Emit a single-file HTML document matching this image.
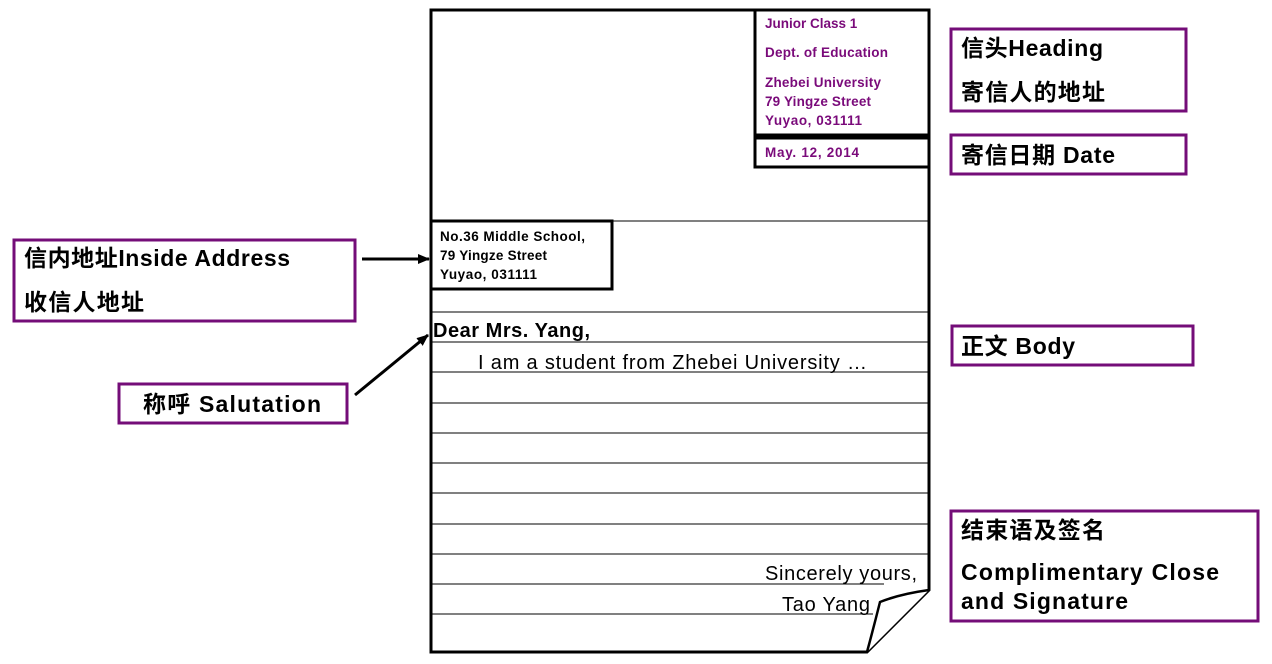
<!DOCTYPE html>
<html><head><meta charset="utf-8"><style>
body{margin:0;background:#fff;}
svg{display:block;}
.lb{font-family:"Liberation Sans","Noto Sans CJK SC",sans-serif;font-weight:bold;font-size:23px;fill:#000;}
.pu{font-family:"Liberation Sans",sans-serif;font-weight:bold;font-size:13.5px;fill:#7a0a7a;}
.bk{font-family:"Liberation Sans",sans-serif;font-weight:bold;font-size:13.5px;fill:#000;}
.bd{font-family:"Liberation Sans",sans-serif;font-size:20px;fill:#000;}
</style></head><body>
<svg width="1272" height="664" viewBox="0 0 1272 664" xmlns="http://www.w3.org/2000/svg">
<defs><marker id="ah" markerWidth="12" markerHeight="10" refX="11" refY="5" orient="auto" markerUnits="userSpaceOnUse"><path d="M0,0 L12,5 L0,10 z" fill="#000"/></marker></defs>
<g stroke="#000" stroke-width="1">
<line x1="431" y1="221" x2="929" y2="221"/>
<line x1="431" y1="312" x2="929" y2="312"/>
<line x1="431" y1="342" x2="929" y2="342"/>
<line x1="431" y1="372" x2="929" y2="372"/>
<line x1="431" y1="403" x2="929" y2="403"/>
<line x1="431" y1="433" x2="929" y2="433"/>
<line x1="431" y1="463" x2="929" y2="463"/>
<line x1="431" y1="493" x2="929" y2="493"/>
<line x1="431" y1="524" x2="929" y2="524"/>
<line x1="431" y1="554" x2="929" y2="554"/>
<line x1="431" y1="584" x2="884" y2="584"/>
<line x1="431" y1="614" x2="873" y2="614"/>
</g>
<path d="M431,10 L929,10 L929,590 L867,652 L431,652 Z" fill="none" stroke="#000" stroke-width="3"/>
<path d="M929,590 Q900,594 880,602 Q874,626 867,652" fill="#fff" stroke="#000" stroke-width="2.5"/>
<rect x="755" y="10" width="174" height="125" fill="#fff" stroke="#000" stroke-width="3"/>
<rect x="755" y="138" width="174" height="29" fill="#fff" stroke="#000" stroke-width="3"/>
<text class="pu" x="765" y="28">Junior Class 1</text>
<text class="pu" x="765" y="57" textLength="123">Dept. of Education</text>
<text class="pu" x="765" y="87" textLength="116">Zhebei University</text>
<text class="pu" x="765" y="106" textLength="106">79 Yingze Street</text>
<text class="pu" x="765" y="125" textLength="97">Yuyao, 031111</text>
<text class="pu" x="765" y="157" textLength="94">May. 12, 2014</text>
<rect x="431" y="221" width="181" height="68" fill="#fff" stroke="#000" stroke-width="3"/>
<text class="bk" x="440" y="241" textLength="145">No.36  Middle School,</text>
<text class="bk" x="440" y="260" textLength="107">79 Yingze Street</text>
<text class="bk" x="440" y="279" textLength="97">Yuyao, 031111</text>
<text x="433" y="337" textLength="157" style="font-family:'Liberation Sans',sans-serif;font-weight:bold;font-size:20px">Dear Mrs. Yang,</text>
<text class="bd" x="478" y="369" textLength="389">I am a student from Zhebei University …</text>
<text class="bd" x="765" y="580" textLength="152">Sincerely yours,</text>
<text class="bd" x="782" y="611" textLength="88">Tao Yang</text>
<line x1="362" y1="259" x2="429" y2="259" stroke="#000" stroke-width="3" marker-end="url(#ah)"/>
<line x1="355" y1="395" x2="428" y2="335" stroke="#000" stroke-width="3" marker-end="url(#ah)"/>
<g fill="none" stroke="#740d78" stroke-width="3">
<rect x="14" y="240" width="341" height="81"/>
<rect x="119" y="384" width="228" height="39"/>
<rect x="951" y="29" width="235" height="82"/>
<rect x="951" y="135" width="235" height="39"/>
<rect x="952" y="326" width="241" height="39"/>
<rect x="951" y="511" width="307" height="110"/>
</g>
<text class="lb" x="24" y="266" textLength="266">信内地址Inside Address</text>
<text class="lb" x="24" y="310" textLength="120">收信人地址</text>
<text class="lb" x="143" y="412" textLength="178">称呼 Salutation</text>
<text class="lb" x="961" y="56" textLength="142">信头Heading</text>
<text class="lb" x="961" y="100" textLength="144">寄信人的地址</text>
<text class="lb" x="961" y="163" textLength="154">寄信日期 Date</text>
<text class="lb" x="961" y="354" textLength="114">正文 Body</text>
<text class="lb" x="961" y="538" textLength="144">结束语及签名</text>
<text class="lb" x="961" y="580" textLength="258">Complimentary Close</text>
<text class="lb" x="961" y="609" textLength="167">and Signature</text>
</svg>
</body></html>
